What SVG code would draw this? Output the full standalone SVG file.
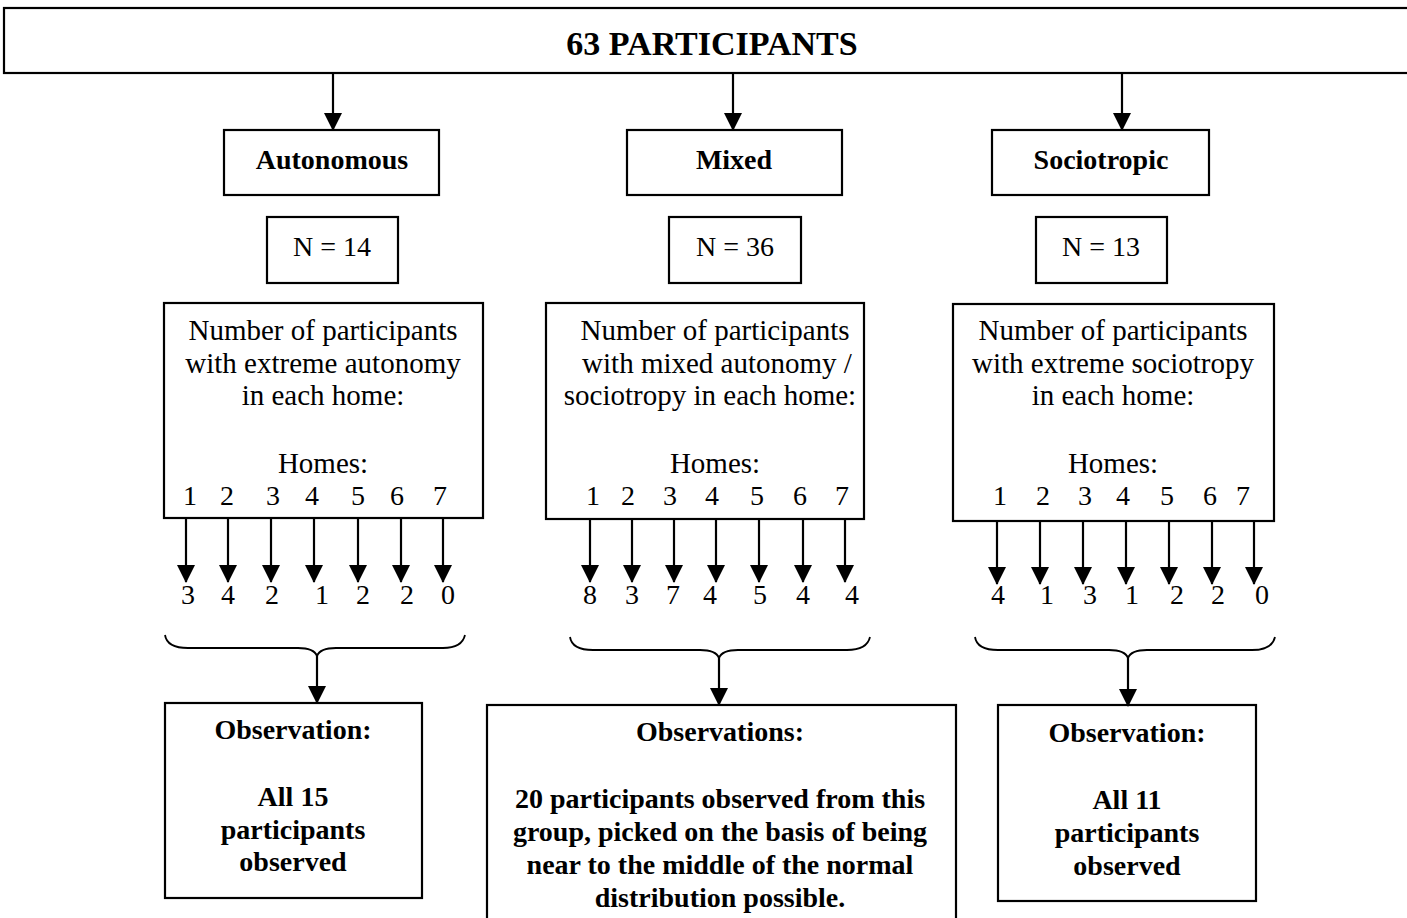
<svg xmlns="http://www.w3.org/2000/svg" width="1407" height="918" viewBox="0 0 1407 918">
<style>
.box{fill:#fff;stroke:#000;stroke-width:2.2}
.t{font-family:"Liberation Serif","Times New Roman",serif;fill:#000;text-anchor:middle}
.b{font-weight:bold}
.r{font-size:29px}
.lb{font-size:28px;font-weight:bold}
.num{font-family:"Liberation Serif","Times New Roman",serif;font-size:28px;fill:#000;text-anchor:middle}
.ln{fill:none;stroke:#000;stroke-width:2.2}
.br{fill:none;stroke:#000;stroke-width:1.8}
</style>
<defs>
<marker id="ah" markerUnits="userSpaceOnUse" markerWidth="18" markerHeight="18" refX="17" refY="9" orient="auto" viewBox="0 0 18 18">
<path d="M0,0 L18,9 L0,18 z" fill="#000"/>
</marker>
</defs>
<rect width="1407" height="918" fill="#fff"/>

<g id="top">
<rect class="box" x="4" y="8" width="1410" height="65"/>
<text class="t b" x="712" y="55" font-size="34">63 PARTICIPANTS</text>
</g>

<g id="autonomous">
<rect class="box" x="224" y="130" width="215" height="65"/>
<text class="t lb" x="332" y="169">Autonomous</text>
</g>
<g id="mixed">
<rect class="box" x="627" y="130" width="215" height="65"/>
<text class="t lb" x="734" y="169">Mixed</text>
</g>
<g id="sociotropic">
<rect class="box" x="992" y="130" width="217" height="65"/>
<text class="t lb" x="1101" y="169">Sociotropic</text>
</g>

<g id="n14">
<rect class="box" x="267" y="217" width="131" height="66"/>
<text class="t" x="332" y="256" font-size="28">N = 14</text>
</g>
<g id="n36">
<rect class="box" x="669" y="217" width="132" height="66"/>
<text class="t" x="735" y="256" font-size="28">N = 36</text>
</g>
<g id="n13">
<rect class="box" x="1036" y="217" width="131" height="66"/>
<text class="t" x="1101" y="256" font-size="28">N = 13</text>
</g>

<g id="homes-autonomous">
<rect class="box" x="164" y="303" width="319" height="215"/>
<text class="t r" x="323" y="340">Number of participants</text>
<text class="t r" x="323" y="373">with extreme autonomy</text>
<text class="t r" x="323" y="405">in each home:</text>
<text class="t r" x="323" y="473">Homes:</text>
<g class="num" font-size="29">
<text x="190" y="505">1</text><text x="227" y="505">2</text><text x="273" y="505">3</text><text x="312" y="505">4</text><text x="358" y="505">5</text><text x="397" y="505">6</text><text x="440" y="505">7</text>
</g>
</g>
<g id="homes-mixed">
<rect class="box" x="546" y="303" width="318" height="216"/>
<text class="t r" x="715" y="340">Number of participants</text>
<text class="t r" x="717" y="373">with mixed autonomy /</text>
<text class="t r" x="710" y="405">sociotropy in each home:</text>
<text class="t r" x="715" y="473">Homes:</text>
<g class="num" font-size="29">
<text x="593" y="505">1</text><text x="628" y="505">2</text><text x="670" y="505">3</text><text x="712" y="505">4</text><text x="757" y="505">5</text><text x="800" y="505">6</text><text x="842" y="505">7</text>
</g>
</g>
<g id="homes-sociotropic">
<rect class="box" x="953" y="304" width="321" height="217"/>
<text class="t r" x="1113" y="340">Number of participants</text>
<text class="t r" x="1113" y="373">with extreme sociotropy</text>
<text class="t r" x="1113" y="405">in each home:</text>
<text class="t r" x="1113" y="473">Homes:</text>
<g class="num" font-size="29">
<text x="1000" y="505">1</text><text x="1043" y="505">2</text><text x="1085" y="505">3</text><text x="1123" y="505">4</text><text x="1167" y="505">5</text><text x="1210" y="505">6</text><text x="1243" y="505">7</text>
</g>
</g>

<g id="counts-autonomous" class="num">
<text x="188" y="604">3</text><text x="228" y="604">4</text><text x="272" y="604">2</text><text x="322" y="604">1</text><text x="363" y="604">2</text><text x="407" y="604">2</text><text x="448" y="604">0</text>
</g>
<g id="counts-mixed" class="num">
<text x="590" y="604">8</text><text x="632" y="604">3</text><text x="673" y="604">7</text><text x="710" y="604">4</text><text x="760" y="604">5</text><text x="803" y="604">4</text><text x="852" y="604">4</text>
</g>
<g id="counts-sociotropic" class="num">
<text x="998" y="604">4</text><text x="1047" y="604">1</text><text x="1090" y="604">3</text><text x="1132" y="604">1</text><text x="1177" y="604">2</text><text x="1218" y="604">2</text><text x="1262" y="604">0</text>
</g>

<g id="obs-autonomous">
<rect class="box" x="165" y="703" width="257" height="195"/>
<text class="t lb" x="293" y="739">Observation:</text>
<text class="t lb" x="293" y="806">All 15</text>
<text class="t lb" x="293" y="839">participants</text>
<text class="t lb" x="293" y="871">observed</text>
</g>
<g id="obs-mixed">
<rect class="box" x="487" y="705" width="469" height="230"/>
<text class="t lb" x="720" y="741">Observations:</text>
<text class="t lb" x="720" y="808">20 participants observed from this</text>
<text class="t lb" x="720" y="841">group, picked on the basis of being</text>
<text class="t lb" x="720" y="874">near to the middle of the normal</text>
<text class="t lb" x="720" y="907">distribution possible.</text>
</g>
<g id="obs-sociotropic">
<rect class="box" x="998" y="705" width="258" height="196"/>
<text class="t lb" x="1127" y="742">Observation:</text>
<text class="t lb" x="1127" y="809">All 11</text>
<text class="t lb" x="1127" y="842">participants</text>
<text class="t lb" x="1127" y="875">observed</text>
</g>

<g id="connectors">
<g class="ln" marker-end="url(#ah)">
<line x1="333" y1="73" x2="333" y2="130"/>
<line x1="733" y1="73" x2="733" y2="130"/>
<line x1="1122" y1="73" x2="1122" y2="130"/>

<line x1="186" y1="518" x2="186" y2="582"/>
<line x1="228" y1="518" x2="228" y2="582"/>
<line x1="271" y1="518" x2="271" y2="582"/>
<line x1="314" y1="518" x2="314" y2="582"/>
<line x1="358" y1="518" x2="358" y2="582"/>
<line x1="401" y1="518" x2="401" y2="582"/>
<line x1="443" y1="518" x2="443" y2="582"/>

<line x1="590" y1="519" x2="590" y2="582"/>
<line x1="632" y1="519" x2="632" y2="582"/>
<line x1="674" y1="519" x2="674" y2="582"/>
<line x1="716" y1="519" x2="716" y2="582"/>
<line x1="759" y1="519" x2="759" y2="582"/>
<line x1="803" y1="519" x2="803" y2="582"/>
<line x1="845" y1="519" x2="845" y2="582"/>

<line x1="997" y1="521" x2="997" y2="584"/>
<line x1="1040" y1="521" x2="1040" y2="584"/>
<line x1="1083" y1="521" x2="1083" y2="584"/>
<line x1="1126" y1="521" x2="1126" y2="584"/>
<line x1="1169" y1="521" x2="1169" y2="584"/>
<line x1="1212" y1="521" x2="1212" y2="584"/>
<line x1="1254" y1="521" x2="1254" y2="584"/>

<line x1="317" y1="655" x2="317" y2="703"/>
<line x1="719" y1="657" x2="719" y2="705"/>
<line x1="1128" y1="657" x2="1128" y2="706"/>
</g>
<path class="br" d="M165,635 Q167,648 188,648 L298,648 Q314,648 317,656 Q320,648 336,648 L443,648 Q462,648 465,635"/>
<path class="br" d="M570,637 Q572,650 593,650 L700,650 Q716,650 719,658 Q722,650 738,650 L847,650 Q867,650 870,637"/>
<path class="br" d="M975,637 Q977,650 998,650 L1109,650 Q1125,650 1128,658 Q1131,650 1147,650 L1252,650 Q1272,650 1275,637"/>
</g>
</svg>
